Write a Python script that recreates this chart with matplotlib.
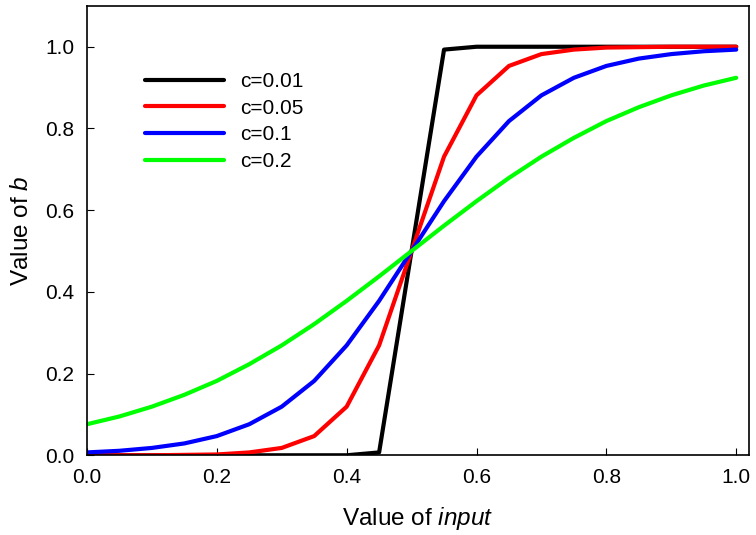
import matplotlib.pyplot as plt

plt.rcParams["font.family"] = ["Liberation Sans", "DejaVu Sans"]
plt.rcParams["mathtext.fontset"] = "custom"
plt.rcParams["mathtext.rm"] = "Liberation Sans"
plt.rcParams["mathtext.it"] = "Liberation Sans:italic"

x = [0.0, 0.05, 0.1, 0.15, 0.2, 0.25, 0.3, 0.35, 0.4, 0.45, 0.5,
     0.55, 0.6, 0.65, 0.7, 0.75, 0.8, 0.85, 0.9, 0.95, 1.0]

b_001 = [0.0, 0.0, 0.0, 0.0, 0.0, 0.0, 0.0, 0.0, 0.0, 0.007, 0.5,
         0.993, 1.0, 1.0, 1.0, 1.0, 1.0, 1.0, 1.0, 1.0, 1.0]
b_005 = [0.0, 0.0, 0.0, 0.001, 0.002, 0.007, 0.018, 0.047, 0.119, 0.269, 0.5,
         0.731, 0.881, 0.953, 0.982, 0.993, 0.998, 0.999, 1.0, 1.0, 1.0]
b_01 = [0.007, 0.011, 0.018, 0.029, 0.047, 0.076, 0.119, 0.182, 0.269, 0.378, 0.5,
        0.622, 0.731, 0.818, 0.881, 0.924, 0.953, 0.971, 0.982, 0.989, 0.993]
b_02 = [0.076, 0.095, 0.119, 0.148, 0.182, 0.223, 0.269, 0.321, 0.378, 0.438, 0.5,
        0.562, 0.622, 0.679, 0.731, 0.777, 0.818, 0.852, 0.881, 0.905, 0.924]

labels = ["c=0.01", "c=0.05", "c=0.1", "c=0.2"]
colors = ["#000000", "#ff0000", "#0000ff", "#00ff00"]

fig = plt.figure(figsize=(7.56, 5.35), dpi=100)
ax = fig.add_axes([0.115, 0.149, 0.876, 0.84])

for ys, lab, col in zip([b_001, b_005, b_01, b_02], labels, colors):
    ax.plot(x, ys, color=col, lw=3, label=lab, solid_capstyle="round")

ax.set_xlim(0, 1.02)
ax.set_ylim(0, 1.1)
ax.set_xticks([0.0, 0.2, 0.4, 0.6, 0.8, 1.0])
ax.set_yticks([0.0, 0.2, 0.4, 0.6, 0.8, 1.0])
ax.tick_params(direction="in", length=5, labelsize=15, top=False, right=False)
ax.tick_params(axis="x", pad=9)
ax.tick_params(axis="y", pad=9)
for s in ax.spines.values():
    s.set_linewidth(1.2)

ax.set_xlabel("Value of $\\it{input}$", fontsize=17.5, labelpad=13)
ax.set_ylabel("Value of $\\it{b}$", fontsize=17.5, labelpad=9)

ax.legend(loc="upper left", bbox_to_anchor=(0.06, 0.895), frameon=False,
          fontsize=15, handlelength=3.75, handletextpad=0.8, labelspacing=0.37)

plt.savefig("out.png", dpi=100)
